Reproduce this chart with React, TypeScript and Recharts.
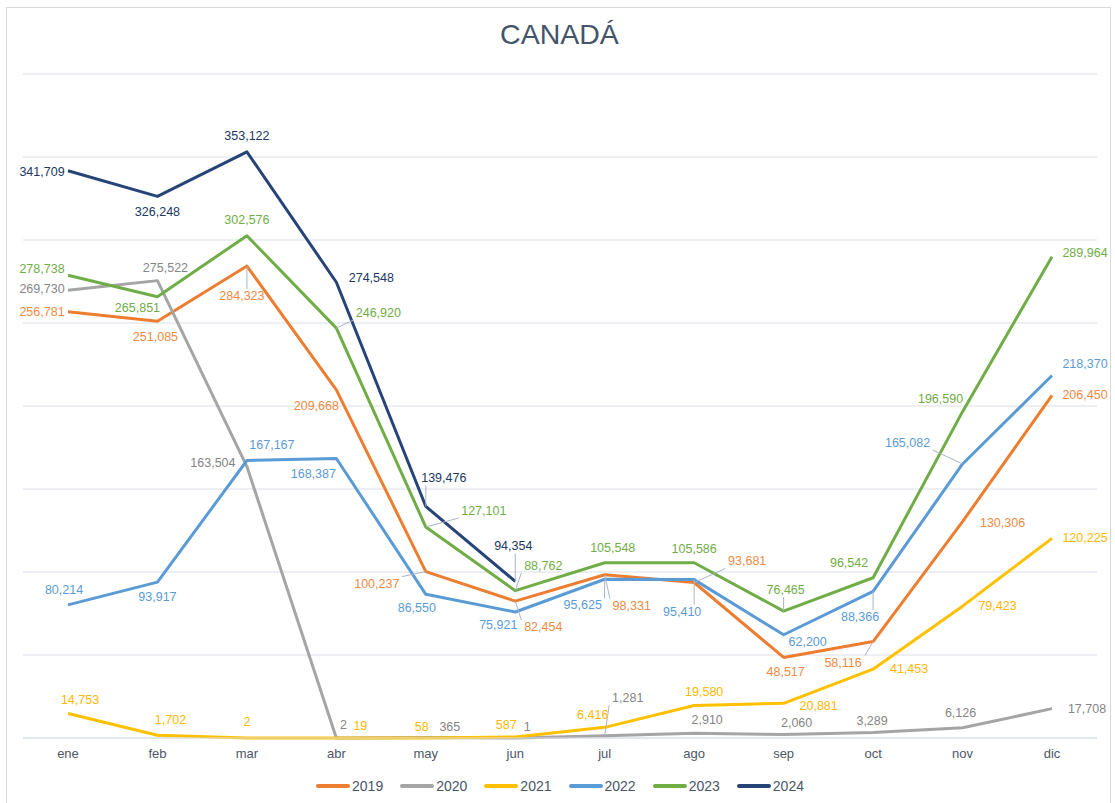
import { LineChart, Line, XAxis, YAxis, CartesianGrid, Legend } from "recharts";

const months = ["ene", "feb", "mar", "abr", "may", "jun", "jul", "ago", "sep", "oct", "nov", "dic"];

const y2019 = [256781, 251085, 284323, 209668, 100237, 82454, 98331, 93681, 48517, 58116, 130306, 206450];
const y2020 = [269730, 275522, 163504, 2, 365, 1, 1281, 2910, 2060, 3289, 6126, 17708];
const y2021 = [14753, 1702, 2, 19, 58, 587, 6416, 19580, 20881, 41453, 79423, 120225];
const y2022 = [80214, 93917, 167167, 168387, 86550, 75921, 95625, 95410, 62200, 88366, 165082, 218370];
const y2023 = [278738, 265851, 302576, 246920, 127101, 88762, 105548, 105586, 76465, 96542, 196590, 289964];
const y2024 = [341709, 326248, 353122, 274548, 139476, 94354, null, null, null, null, null, null];

const yTicks = [0, 50000, 100000, 150000, 200000, 250000, 300000, 350000, 400000];

const FONT = "'Liberation Sans', Arial, sans-serif";

const series = [
  { key: "2019", values: y2019, color: "#ED7D31", text: "#F08A45" },
  { key: "2020", values: y2020, color: "#A5A5A5", text: "#858585" },
  { key: "2021", values: y2021, color: "#FFC000", text: "#FFB800" },
  { key: "2022", values: y2022, color: "#5B9BD5", text: "#5B9BD5" },
  { key: "2023", values: y2023, color: "#70AD47", text: "#70AD47" },
  { key: "2024", values: y2024, color: "#264478", text: "#203864" },
];

// label placement relative to the point: [dx, dy, leader line?]
const labelOffsets: Record<string, number[][]> = {
  "2019": [[-26, 0], [-2, 16], [-5, 30, 1], [-20, 16], [-49, 12, 1], [28, 26, 1], [27, 31, 1], [53, -21, 1], [2, 15], [-30, 21, 1], [40, 1], [33, 0]],
  "2020": [[-26, -1], [8, -13], [-34, -4], [7, -13], [24, -10], [12, -11], [23, -38, 1], [13, -13], [13, -12], [-1, -12], [-2, -15], [35, 0]],
  "2021": [[12, -14], [13, -15], [0, -16], [24, -12], [-4, -11], [-9, -12], [-12, -12], [10, -13], [35, 3], [36, 0], [35, 0], [33, 0]],
  "2022": [[-4, -15], [0, 15], [25, -16], [-23, 16], [-9, 14], [-17, 13], [-22, 26, 1], [-12, 32, 1], [24, 7], [-13, 26, 1], [-55, -21, 1], [33, -12]],
  "2023": [[-26, -6], [-20, 11], [0, -16], [42, -15, 1], [58, -16, 1], [28, -25, 1], [8, -15], [0, -14], [2, -21, 1], [-24, -15], [-22, -13], [33, -4]],
  "2024": [[-26, 1], [0, 16], [0, -16], [35, -4], [18, -28, 1], [-2, -35, 1]],
};

const data = months.map((m, i) => {
  const row: Record<string, any> = { month: m };
  series.forEach((s) => {
    row[s.key] = s.values[i];
  });
  return row;
});

const fmt = (v: number) => v.toLocaleString("en-US");

function makeLabel(s: (typeof series)[number]) {
  return (props: any) => {
    const { x, y, value, index } = props;
    if (value == null || x == null || y == null) return null;
    const off = labelOffsets[s.key][index];
    if (!off) return null;
    const cx = x + off[0];
    const cy = y + off[1];
    const text = fmt(value);
    const hw = text.length * 3.3 + 2;
    const hh = 7;
    let leader = null;
    if (off[2]) {
      const lx = Math.max(cx - hw, Math.min(x, cx + hw));
      const ly = Math.max(cy - hh, Math.min(y, cy + hh));
      leader = <line x1={x} y1={y} x2={lx} y2={ly} stroke="#A9B5C6" strokeWidth={1} />;
    }
    return (
      <g key={`${s.key}-${index}`}>
        {leader}
        <text
          x={cx}
          y={cy}
          textAnchor="middle"
          dominantBaseline="central"
          fill={s.text}
          fontSize={12.5}
          fontFamily={FONT}
        >
          {text}
        </text>
      </g>
    );
  };
}

const renderLegend = () => (
  <div
    style={{
      display: "flex",
      justifyContent: "center",
      alignItems: "center",
      height: 20,
      fontFamily: FONT,
      fontSize: 14,
      color: "#4A5568",
    }}
  >
    {series.map((s) => (
      <div key={s.key} style={{ display: "flex", alignItems: "center", margin: "0 8.5px" }}>
        <span
          style={{
            display: "inline-block",
            width: 34,
            height: 4,
            background: s.color,
            borderRadius: 2,
            marginRight: 2,
          }}
        />
        {s.key}
      </div>
    ))}
  </div>
);

export default function App() {
  return (
    <div
      style={{
        position: "absolute",
        left: 0,
        top: 0,
        width: 1115,
        height: 803,
        background: "#fff",
        overflow: "hidden",
      }}
    >
      <div
        style={{
          position: "absolute",
          left: 6,
          top: 7,
          width: 1105,
          height: 800,
          border: "1px solid #D9D9D9",
          boxSizing: "border-box",
        }}
      />
      <div
        style={{
          position: "absolute",
          left: 0,
          top: 18,
          width: 1119,
          textAlign: "center",
          fontFamily: FONT,
          fontSize: 28.5,
          color: "#44546A",
        }}
      >
        CANADÁ
      </div>
      <div style={{ position: "absolute", left: 0, top: 0 }}>
        <LineChart
          width={1115}
          height={803}
          data={data}
          margin={{ top: 74, right: 18, left: 23, bottom: 7 }}
        >
          <CartesianGrid vertical={false} stroke="#D9DEE6" strokeWidth={1} />
          <XAxis
            dataKey="month"
            height={38}
            padding={{ left: 45, right: 45 }}
            axisLine={{ stroke: "#D9DEE6" }}
            tickLine={false}
            tickMargin={5}
            tick={{ fill: "#4D5663", fontSize: 13, fontFamily: FONT }}
            interval={0}
          />
          <YAxis hide domain={[0, 400000]} ticks={yTicks} />
          <Legend verticalAlign="bottom" content={renderLegend} />
          {series.map((s) => (
            <Line
              key={s.key}
              type="linear"
              dataKey={s.key}
              stroke={s.color}
              strokeWidth={3}
              strokeLinejoin="round"
              dot={false}
              activeDot={false}
              isAnimationActive={false}
              label={makeLabel(s)}
            />
          ))}
        </LineChart>
      </div>
    </div>
  );
}
